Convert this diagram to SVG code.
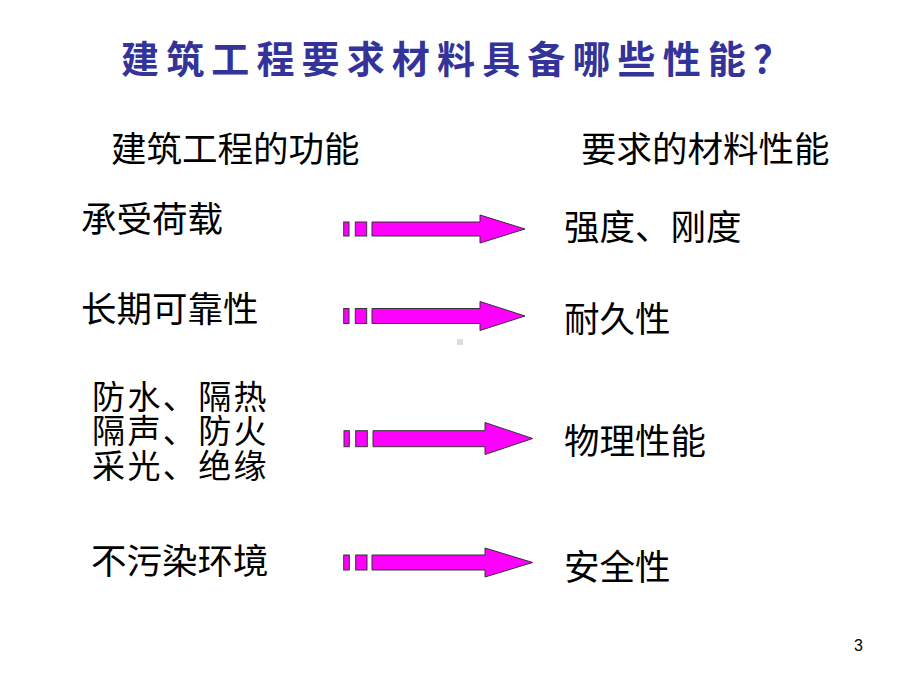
<svg xmlns="http://www.w3.org/2000/svg" width="920" height="690" viewBox="0 0 920 690">
<style>
.t{font-family:"Noto Sans CJK SC","Noto Sans CJK TC",sans-serif;font-size:35.5px;fill:#000}
.h{font-family:"Noto Sans CJK SC","Noto Sans CJK TC",sans-serif;font-size:35.5px;fill:#000}
.b{font-family:"Noto Sans CJK SC","Noto Sans CJK TC",sans-serif;font-size:33px;letter-spacing:2.4px;fill:#000}
.title{font-family:"Noto Sans CJK SC","Noto Sans CJK TC",sans-serif;font-size:38px;font-weight:bold;fill:#333399}
.a{fill:#FF00FF;stroke:#333333;stroke-width:1}
.pg{font-family:"Liberation Sans",Arial,sans-serif;font-size:16px;fill:#000}
</style>
<rect width="920" height="690" fill="#fff"/>
<g id="title"><text class="title" x="121" y="73" textLength="670" lengthAdjust="spacing">建筑工程要求材料具备哪些性能？</text></g>
<g id="head-left"><text class="h" x="111" y="162">建筑工程的功能</text></g>
<g id="head-right"><text class="h" x="581" y="162">要求的材料性能</text></g>
<g id="f1"><text class="t" x="81" y="232">承受荷载</text></g>
<g id="f2"><text class="t" x="81" y="322">长期可靠性</text></g>
<g id="f3"><text class="b" x="92" y="409">防水、隔热</text><text class="b" x="92" y="443">隔声、防火</text><text class="b" x="92" y="478">采光、绝缘</text></g>
<g id="f4"><text class="t" x="91" y="574">不污染环境</text></g>
<g id="r1"><text class="t" x="564" y="240">强度、刚度</text></g>
<g id="r2"><text class="t" x="564" y="332">耐久性</text></g>
<g id="r3"><text class="t" x="564" y="454">物理性能</text></g>
<g id="r4"><text class="t" x="564" y="580">安全性</text></g>
<g id="connectors">
<rect class="a" x="343.7" y="222" width="5.3" height="14"/><rect class="a" x="355.3" y="222" width="11.4" height="14"/>
<polygon class="a" points="372,222 480,222 480,215 525,229 480,243 480,236 372,236"/>
<rect class="a" x="343.7" y="308.5" width="5.3" height="15"/><rect class="a" x="355.3" y="308.5" width="11.4" height="15"/>
<polygon class="a" points="372,308.5 480,308.5 480,301.5 525,316 480,330.5 480,323.5 372,323.5"/>
<rect class="a" x="344" y="430.7" width="5.3" height="16"/><rect class="a" x="355.7" y="430.7" width="11.6" height="16"/>
<polygon class="a" points="373,430.7 485,430.7 485,422.5 532.7,438.5 485,454.5 485,446.7 373,446.7"/>
<rect class="a" x="343.7" y="555" width="5.6" height="15"/><rect class="a" x="355.7" y="555" width="11.3" height="15"/>
<polygon class="a" points="372,555 485,555 485,548 532.7,562.5 485,577 485,570 372,570"/>
</g>
<rect x="457" y="339" width="6" height="6" fill="#dddddd"/>
<g id="page"><text class="pg" x="854" y="651">3</text></g>
</svg>
